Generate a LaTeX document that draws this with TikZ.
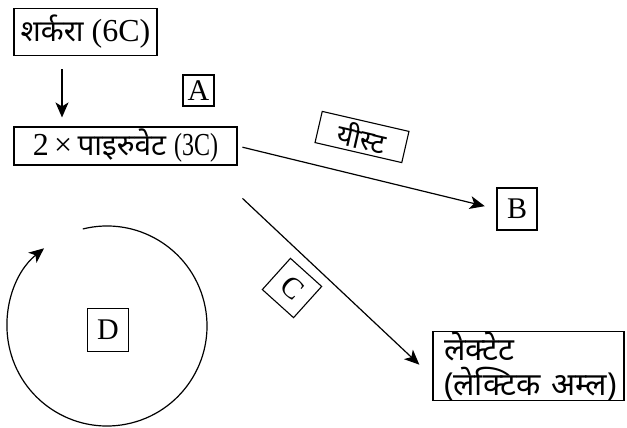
\documentclass[tikz,border=0pt]{standalone}
\usepackage{fontspec}
\setmainfont{Liberation Serif}
\newfontfamily\dev[Script=Devanagari,Scale=0.93]{Noto Sans}
\usetikzlibrary{arrows.meta}
\begin{document}
\begin{tikzpicture}[x=1pt,y=-1pt, line width=1.2pt,
  box/.style={draw, line width=1.1pt, inner sep=0pt, align=center},
  arr/.style={-{Stealth[length=15pt,width=13pt,inset=4pt]}},
  letter/.style={font=\fontsize{30}{32}\selectfont},
  font=\fontsize{32}{36}\selectfont]
\useasboundingbox (0,0) rectangle (627,428);
\node[box, minimum width=143pt, minimum height=47pt] (sug) at (85.5,32) {{\dev शर्करा} (6C)};
\node[box, minimum width=223pt, minimum height=38pt] (pyr) at (125.5,146) {2\,×\,{\dev पाइरुवेट} \scalebox{0.75}[1]{(3C)}};
\node[box, letter, minimum size=31pt] (A) at (198.5,90.5) {A};
\node[box, letter, minimum width=40pt, minimum height=42pt] (B) at (517,209) {B};
\node[box, minimum width=89pt, minimum height=32pt, rotate=-13, font=\fontsize{30}{32}\selectfont] (yeast) at (362,137) {\dev यीस्ट};
\node[box, letter, minimum size=42pt, rotate=-42] (C) at (292,288) {C};
\node[box, minimum width=191pt, minimum height=68pt, text width=191pt, inner xsep=0pt, align=left,
      font=\fontsize{34}{35}\selectfont\dev] (lac) at (528.5,366) {\hspace*{11pt}लेक्टेट\\\hspace*{11pt}(लेक्टिक अम्ल)};
\node[box, letter, minimum width=41pt, minimum height=43pt] (D) at (108,330) {D};
\coordinate (cen) at (107,326);
% connectors
\draw[arr, shorten <=13pt, shorten >=9pt] ([xshift=-23.5pt]sug.south) -- ([xshift=-23.5pt]sug.south |- pyr.north);
\draw[arr, shorten <=5pt, shorten >=12pt] (pyr.east) -- (B.west);
\draw[arr, shorten <=48pt, shorten >=18pt] ([xshift=-30pt]pyr.south east) -- ([yshift=-11pt]lac.west);
\draw[arr] ([shift={(-104:100)}]cen) arc[start angle=-104, end angle=231, radius=100];
\end{tikzpicture}
\end{document}
